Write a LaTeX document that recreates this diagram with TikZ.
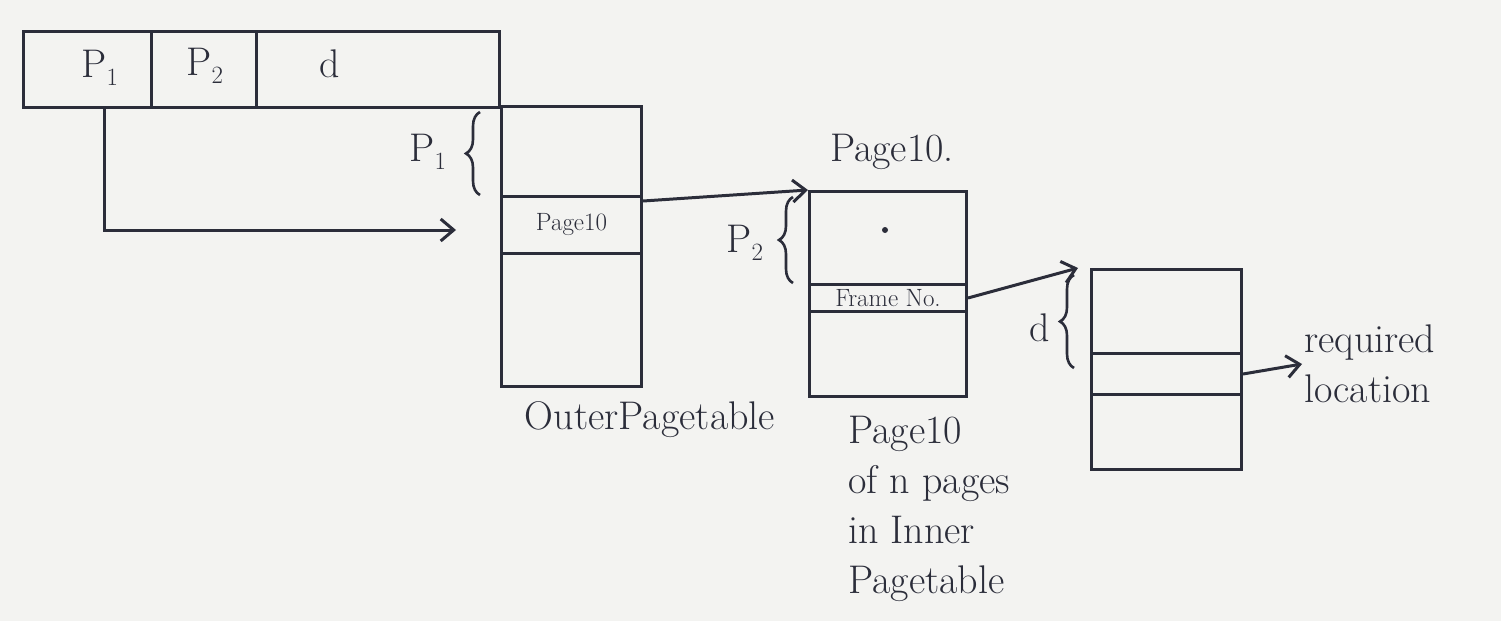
\documentclass[tikz,border=0pt]{standalone}
\usetikzlibrary{arrows.meta,decorations.pathreplacing,calc}
\definecolor{ink}{HTML}{2B2D3A}
\definecolor{paper}{HTML}{F3F3F1}
\begin{document}
\begin{tikzpicture}[x=1pt,y=-1pt,
  box/.style={draw=ink, line width=3pt, rectangle, inner sep=0pt, anchor=north west},
  txt/.style={text=ink, font=\fontsize{40}{50}\selectfont, inner sep=2pt},
  small/.style={text=ink, font=\fontsize{25}{28}\selectfont},
  conn/.style={draw=ink, line width=3pt, -{Straight Barb[length=13pt,width=22pt]}},
  brc/.style={draw=ink, line width=2.6pt, decorate, decoration={brace,amplitude=14pt}}]
\fill[paper] (0,0) rectangle (1501,621);
\useasboundingbox (0,0) rectangle (1501,621);

% logical address
\node[box, minimum width=128pt, minimum height=76pt] (cell1) at (22,30) {};
\node[box, minimum width=105pt, minimum height=76pt] (cell2) at (150,30) {};
\node[box, minimum width=243pt, minimum height=76pt] (cell3) at (255,30) {};
\node[txt] (tp1) at (100,68) {P$_1$};
\node[txt] (tp2) at (205,66) {P$_2$};
\node[txt] (td) at (330,64) {d};

% outer page table
\node[box, minimum width=140pt, minimum height=280pt] (outer) at (500,105) {};
\node[box, minimum width=140pt, minimum height=57pt, small] (oentry) at (500,195) {Page10};
\node[txt] (outerlbl) at (650,420) {OuterPagetable};
\draw[brc] (480,195) -- (480,112);
\node[txt] (lp1) at (428,152) {P$_1$};
\coordinate (p1tip) at (456,230);
\draw[conn] ([xshift=17pt]cell1.south) |- (p1tip);

% inner page table
\node[box, minimum width=157pt, minimum height=205pt] (inner) at (808,190) {};
\node[box, minimum width=157pt, minimum height=27pt, small] (ientry) at (808,283) {Frame No.};
\node[txt] (innertop) at (892,152) {Page10.};
\fill[ink] (885,230) circle (3);
\draw[brc] (793,283) -- (793,197);
\node[txt] (lp2) at (745,243) {P$_2$};
\draw[conn] ([yshift=-6pt]oentry.north east) -- (inner.north west);
\node[txt, anchor=north west, align=left] (innerlbl) at (846,414) {Page10\\of n pages\\in Inner\\Pagetable};

% page frame
\node[box, minimum width=150pt, minimum height=200pt] (final) at (1090,268) {};
\node[box, minimum width=150pt, minimum height=41pt] (fentry) at (1090,352) {};
\draw[brc] (1074,368) -- (1074,275);
\node[txt] (ld) at (1040,328) {d};
\draw[conn] (ientry.east) -- ([xshift=-12pt]final.north west);
\node[txt, anchor=west, align=left] (req) at (1302,364) {required\\location};
\draw[conn] (fentry.east) -- (req.west);
\end{tikzpicture}
\end{document}
